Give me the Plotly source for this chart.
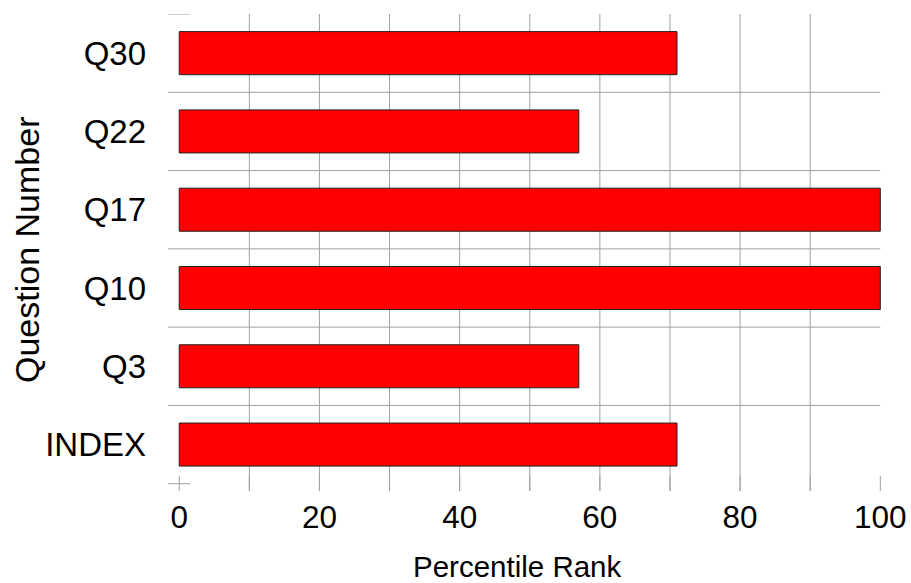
import plotly.graph_objects as go

categories = ["INDEX", "Q3", "Q10", "Q17", "Q22", "Q30"]
percentile_rank = [71, 57, 100, 100, 57, 71]
x_tick_values = [0, 20, 40, 60, 80, 100]
x_grid_values = [10, 20, 30, 40, 50, 60, 70, 80, 90]
x_tick_marks = [0, 10, 20, 30, 40, 50, 60, 70, 80, 90, 100]

GRID = "#a0a0a0"
n = len(categories)
y_lo = -0.5 - 7.3 / 78.4
y_hi = n - 0.5
x_lo, x_hi = -1.6, 100.1

fig = go.Figure()
fig.add_trace(go.Bar(
    y=categories, x=percentile_rank, orientation="h",
    marker=dict(color="#ff0000", line=dict(color="#222222", width=1)),
    width=0.55, showlegend=False,
))

shapes = []
for v in x_grid_values:
    shapes.append(dict(type="line", xref="x", yref="y", x0=v, x1=v, y0=y_lo, y1=y_hi,
                       line=dict(color=GRID, width=1), layer="below"))
for v in x_tick_marks:
    shapes.append(dict(type="line", xref="x", yref="y", ysizemode="pixel", yanchor=-0.5,
                       x0=v, x1=v, y0=-8, y1=8, line=dict(color=GRID, width=1), layer="below"))
for i in range(1, n):
    b = i - 0.5
    shapes.append(dict(type="line", xref="x", yref="y", x0=x_lo, x1=100, y0=b, y1=b,
                       line=dict(color=GRID, width=1), layer="below"))
for b in [-0.5, n - 0.5]:
    shapes.append(dict(type="line", xref="x", yref="y", xsizemode="pixel", xanchor=0,
                       x0=-11, x1=11, y0=b, y1=b, line=dict(color=GRID, width=1), layer="below"))

annotations = [
    dict(text="Percentile Rank", xref="paper", yref="paper", x=(517 - 168) / 713,
         y=(491 - 566) / 477, xanchor="center", yanchor="middle", showarrow=False,
         font=dict(size=29.5)),
    dict(text="Question Number", xref="paper", yref="paper", x=(27 - 168) / 713,
         y=(491 - 250) / 477, xanchor="center", yanchor="middle", showarrow=False,
         textangle=-90, font=dict(size=34)),
]

fig.update_layout(
    width=911, height=583,
    margin=dict(l=168, r=30, t=14, b=92, pad=0),
    paper_bgcolor="white", plot_bgcolor="white",
    font=dict(family="Liberation Sans, Arial, sans-serif", color="black"),
    shapes=shapes,
    annotations=annotations,
    xaxis=dict(range=[x_lo, x_hi], tickvals=x_tick_values, ticks="", showgrid=False,
               zeroline=False, showline=False, tickfont=dict(size=31.5),
               ticklabelstandoff=4, automargin=False),
    yaxis=dict(range=[y_lo, y_hi], type="category", categoryorder="array",
               categoryarray=categories, ticks="", showgrid=False, zeroline=False,
               showline=False, tickfont=dict(size=33), ticklabelstandoff=21,
               automargin=False),
)

fig.write_html("out.html", config={"displayModeBar": False},
               post_script="document.body.style.margin='0';document.body.style.overflow='hidden';")
